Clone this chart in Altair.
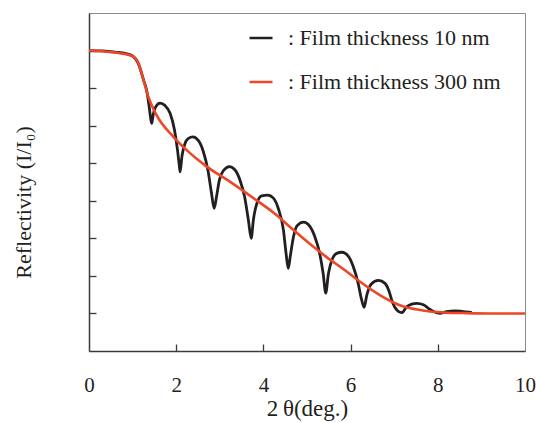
import altair as alt
import pandas as pd

FONT = "Liberation Serif"
TEXT_COLOR = "#231f20"

series_names = [": Film thickness 10 nm", ": Film thickness 300 nm"]
series_colors = ["#231f20", "#ee4626"]

x_tick_labels = [0, 2, 4, 6, 8, 10]
x_inner_ticks = [2, 4, 6, 8]
y_inner_ticks = [1, 2, 3, 4, 5, 6, 7, 8]

# Film thickness 10 nm (black, oscillating)
black_x = [0.00, 0.30, 0.60, 0.85, 1.02, 1.13, 1.25, 1.32, 1.38, 1.42, 1.44,
           1.47, 1.53, 1.63, 1.74, 1.86, 1.96, 2.03, 2.07, 2.09,
           2.13, 2.20, 2.28, 2.38, 2.51, 2.62, 2.73, 2.81, 2.87,
           2.93, 2.99, 3.08, 3.22, 3.35, 3.46, 3.57, 3.66, 3.72,
           3.77, 3.85, 3.96, 4.10, 4.23, 4.34, 4.46, 4.52, 4.57,
           4.62, 4.69, 4.77, 4.92, 5.07, 5.18, 5.29, 5.37, 5.43,
           5.49, 5.57, 5.68, 5.80, 5.95, 6.06, 6.17, 6.25, 6.31,
           6.37, 6.47, 6.64, 6.79, 6.88, 6.96, 7.06, 7.17,
           7.29, 7.40, 7.52, 7.67, 7.82, 7.97, 8.05,
           8.20, 8.39, 8.58, 8.78]
black_y = [8.00, 7.99, 7.96, 7.92, 7.84, 7.66, 7.22, 6.95, 6.51, 6.15, 6.06,
           6.28, 6.50, 6.60, 6.54, 6.33, 5.89, 5.35, 4.95, 4.77,
           5.17, 5.52, 5.66, 5.70, 5.60, 5.32, 4.80, 4.20, 3.80,
           4.15, 4.55, 4.80, 4.91, 4.82, 4.56, 4.10, 3.45, 3.00,
           3.49, 3.93, 4.13, 4.15, 4.07, 3.80, 3.22, 2.60, 2.20,
           2.55, 3.04, 3.33, 3.43, 3.31, 3.04, 2.60, 2.07, 1.54,
           2.05, 2.42, 2.60, 2.63, 2.52, 2.25, 1.82, 1.38, 1.16,
           1.48, 1.78, 1.88, 1.80, 1.60, 1.30, 1.09, 1.02,
           1.18, 1.25, 1.27, 1.23, 1.11, 1.02, 1.00,
           1.05, 1.07, 1.05, 1.03]

# Film thickness 300 nm (red, smooth)
red_x = [0.00, 0.40, 0.71, 1.02, 1.13, 1.25, 1.36, 1.55, 1.93, 2.24, 2.70,
         3.23, 3.76, 4.30, 4.61, 5.07, 5.45, 5.87, 6.21, 6.67, 7.13, 7.50,
         7.82, 8.20, 8.58, 9.20, 10.00]
red_y = [8.00, 7.97, 7.93, 7.84, 7.66, 7.22, 6.77, 6.28, 5.71, 5.35, 4.91,
         4.51, 4.08, 3.62, 3.30, 2.85, 2.50, 2.15, 1.85, 1.49, 1.22, 1.11,
         1.05, 1.02, 1.01, 1.00, 1.00]

df_black = pd.DataFrame({"x": black_x, "y": black_y, "series": series_names[0]})
df_red = pd.DataFrame({"x": red_x, "y": red_y, "series": series_names[1]})

W, H = 436, 338
xscale = alt.Scale(domain=[0, 10], nice=False, zero=False)
yscale = alt.Scale(domain=[0, 9], nice=False, zero=False)

color = alt.Color(
    "series:N",
    scale=alt.Scale(domain=series_names, range=series_colors),
    legend=alt.Legend(
        orient="none", legendX=159, legendY=12, title=None,
        symbolType="stroke", symbolSize=529, symbolStrokeWidth=2.5,
        labelFont=FONT, labelFontSize=22, labelColor=TEXT_COLOR,
        labelOffset=14, rowPadding=20, padding=0, labelLimit=400,
    ),
)

black = alt.Chart(df_black).mark_line(strokeWidth=2.8, interpolate="monotone").encode(
    x=alt.X("x:Q", scale=xscale, axis=alt.Axis(
        orient="bottom", values=x_tick_labels, ticks=False, grid=False,
        domain=True, domainColor="#3a3a3a", domainWidth=1.5,
        labelFont=FONT, labelFontSize=21, labelColor=TEXT_COLOR, labelPadding=23,
        labelFlush=False, labelOverlap=False,
        title="2\u2009θ(deg.)", titleFont=FONT, titleFontSize=23, titleFontWeight="normal",
        titleColor=TEXT_COLOR, titleY=46, titleBaseline="top")),
    y=alt.Y("y:Q", scale=yscale, axis=alt.Axis(
        orient="left", values=y_inner_ticks, ticks=False, labels=False, grid=False,
        domain=True, domainColor="#3a3a3a", domainWidth=1.5,
        title="Reflectivity (I/I₀)", titleFont=FONT, titleFontSize=22,
        titleFontWeight="normal", titleColor=TEXT_COLOR, titleAngle=270,
        titleX=-66, titleY=189, titleAlign="center", titleBaseline="middle")),
    color=color,
)

red = alt.Chart(df_red).mark_line(strokeWidth=2.6, interpolate="monotone").encode(
    x=alt.X("x:Q", scale=xscale, axis=alt.Axis(
        orient="top", offset=-H, values=x_inner_ticks, ticks=True, tickSize=7,
        tickWidth=1.3, tickColor="#3a3a3a", labels=False, domain=False,
        grid=False, title=None)),
    y=alt.Y("y:Q", scale=yscale, axis=alt.Axis(
        orient="right", offset=-W, values=y_inner_ticks, ticks=True, tickSize=7,
        tickWidth=1.3, tickColor="#3a3a3a", labels=False, domain=False,
        grid=False, title=None)),
    color=color,
)

chart = alt.layer(black, red).resolve_axis(
    x="independent", y="independent"
).properties(
    width=W, height=H,
    autosize=alt.AutoSizeParams(type="none"),
    padding={"left": 89, "top": 13, "right": 11, "bottom": 72},
    background="white",
).configure_view(stroke="#8a8a8a", strokeWidth=1)

chart.save("out.html", embed_options={"renderer": "svg", "actions": False})
